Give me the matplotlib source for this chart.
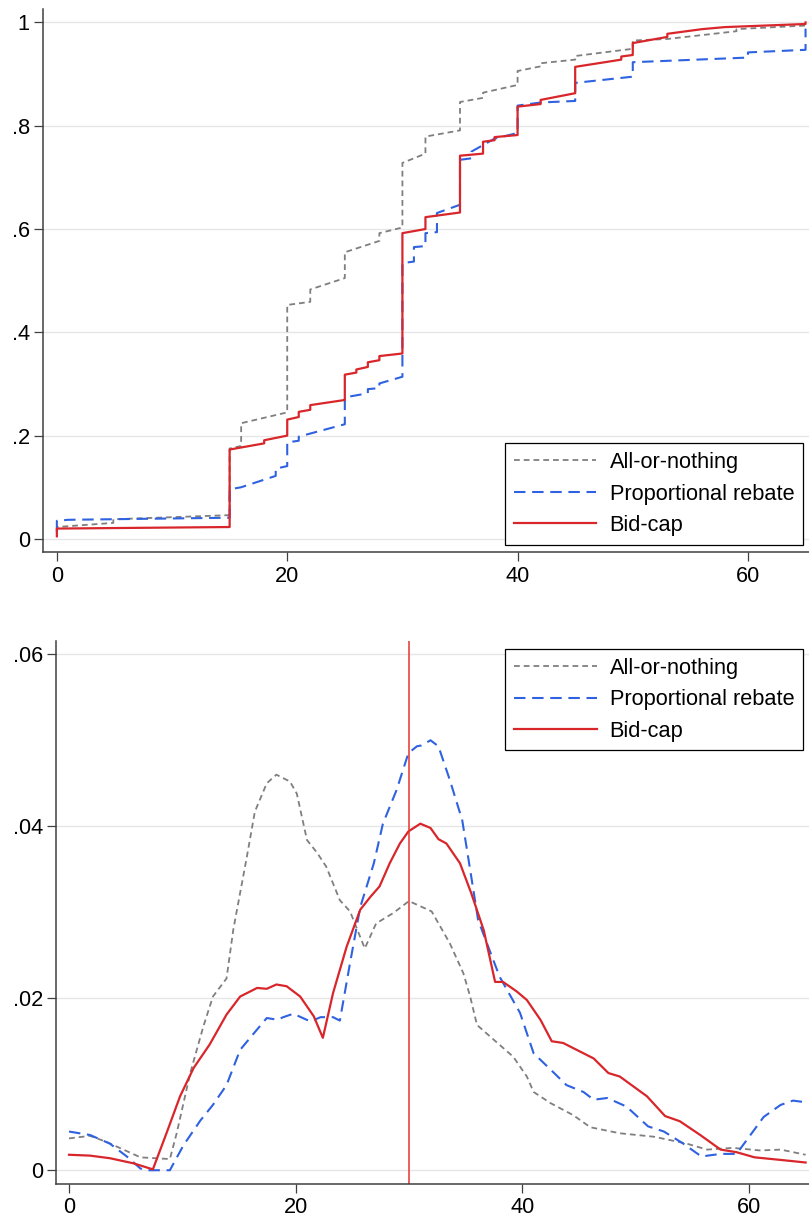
import matplotlib
matplotlib.use("Agg")
import matplotlib.pyplot as plt

plt.rcParams["font.family"] = ["Liberation Sans", "DejaVu Sans"]

labels = ["All-or-nothing", "Proportional rebate", "Bid-cap"]

# ECDF vertices (bid, cumulative share)
aon_x = [0, 0, 4.9, 4.9, 15, 15, 16, 16, 20, 20, 22, 22, 25, 25, 28, 28, 30, 30,
         32, 32, 35, 35, 37, 37, 40, 40, 42, 42, 45, 45, 50, 50, 53, 59, 59, 65]
aon_y = [0.015, 0.023, 0.031, 0.038, 0.046, 0.175, 0.18, 0.224, 0.245, 0.453, 0.459, 0.483,
         0.505, 0.555, 0.577, 0.592, 0.603, 0.728, 0.746, 0.779, 0.791, 0.846, 0.854, 0.864,
         0.879, 0.906, 0.915, 0.921, 0.928, 0.935, 0.949, 0.965, 0.968, 0.983, 0.987, 0.994]

prop_x = [0, 0, 1, 15, 15, 16, 19, 19, 20, 20, 21, 21, 25, 25, 27, 27, 28, 28, 30, 30,
          31, 31, 32, 32, 33, 33, 35, 35, 36, 36, 38, 40, 40, 42, 45, 45, 50, 50, 60, 60,
          65, 65]
prop_y = [0.014, 0.035, 0.037, 0.041, 0.096, 0.1, 0.122, 0.136, 0.141, 0.187, 0.19, 0.198,
          0.222, 0.274, 0.282, 0.29, 0.292, 0.301, 0.314, 0.534, 0.537, 0.565, 0.567, 0.592,
          0.594, 0.631, 0.647, 0.734, 0.737, 0.75, 0.775, 0.786, 0.839, 0.845, 0.848, 0.883,
          0.895, 0.923, 0.932, 0.942, 0.947, 0.988]

cap_x = [0, 0, 15, 15, 18, 18, 20, 20, 21, 21, 22, 22, 25, 25, 26, 26, 27, 27, 28, 28,
         30, 30, 32, 32, 35, 35, 37, 37, 38, 38, 40, 40, 42, 42, 45, 45, 49, 49, 50, 50,
         53, 53, 56, 58, 65, 65]
cap_y = [0.005, 0.02, 0.023, 0.173, 0.185, 0.191, 0.2, 0.231, 0.236, 0.246, 0.25, 0.259,
         0.269, 0.318, 0.322, 0.328, 0.333, 0.342, 0.346, 0.354, 0.359, 0.592, 0.6, 0.623,
         0.632, 0.742, 0.746, 0.769, 0.772, 0.778, 0.782, 0.837, 0.842, 0.85, 0.863, 0.914,
         0.928, 0.934, 0.937, 0.96, 0.972, 0.978, 0.987, 0.991, 0.997, 1.0]

# kernel density estimates
aon_kx = [0, 1.85, 3.3, 6.3, 8.9, 9.5, 10.7, 11.85, 12.7, 13.9, 14.5, 15.7, 16.4, 17.45,
          18.3, 19.5, 20.1, 21.0, 21.9, 22.7, 23.9, 24.8, 25.4, 26.1, 27.1, 28.6, 30.0,
          32.0, 33.6, 34.8, 35.4, 36.0, 37.2, 39.2, 40.4, 41.0, 42.5, 44.5, 46.0, 48.6,
          51.6, 54.5, 56.3, 58.6, 61.0, 62.8, 65.0]
aon_ky = [0.0037, 0.0040, 0.0033, 0.0015, 0.0013, 0.0043, 0.0113, 0.0167, 0.0202, 0.0223,
          0.0280, 0.0365, 0.0417, 0.0450, 0.0460, 0.0452, 0.0438, 0.0384, 0.0369, 0.0353,
          0.0314, 0.0301, 0.0281, 0.0258, 0.0287, 0.0299, 0.0313, 0.0301, 0.0264, 0.0229,
          0.0202, 0.0169, 0.0155, 0.0132, 0.0109, 0.0091, 0.0078, 0.0064, 0.0050, 0.0043,
          0.0039, 0.0031, 0.0024, 0.0026, 0.0023, 0.0024, 0.0018]

prop_kx = [0, 1.85, 3.6, 5.1, 6.3, 6.9, 8.9, 10.1, 11.6, 12.7, 13.9, 15.1, 16.3, 17.45,
           18.4, 18.9, 19.8, 21.3, 22.2, 23.3, 23.9, 24.8, 25.7, 26.9, 27.7, 28.9, 29.95,
           30.7, 31.1, 31.9, 32.6, 33.6, 34.7, 35.5, 36.1, 38.0, 39.8, 41.0, 42.5, 43.9,
           45.4, 46.3, 47.5, 49.2, 51.1, 52.5, 54.2, 55.8, 57.5, 58.9, 59.8, 61.3, 62.8,
           63.9, 65.0]
prop_ky = [0.0045, 0.0041, 0.0031, 0.0016, 0.0002, 0.0, 0.0, 0.0029, 0.0058, 0.0076,
           0.0099, 0.0140, 0.0159, 0.0177, 0.0175, 0.0178, 0.0182, 0.0173, 0.0178, 0.0178,
           0.0174, 0.0241, 0.0306, 0.0357, 0.0403, 0.0442, 0.0485, 0.0493, 0.0494, 0.0500,
           0.0493, 0.0454, 0.0407, 0.0341, 0.0291, 0.0225, 0.0183, 0.0136, 0.0117, 0.0099,
           0.0091, 0.0082, 0.0084, 0.0074, 0.0051, 0.0045, 0.0031, 0.0016, 0.0019, 0.0019,
           0.0035, 0.0062, 0.0076, 0.0081, 0.0079]

cap_kx = [0, 1.85, 3.6, 5.7, 7.4, 8.6, 9.8, 11.0, 12.4, 13.9, 15.1, 16.6, 17.45, 18.3,
          19.2, 20.4, 21.6, 22.4, 23.3, 24.5, 25.7, 26.6, 27.4, 28.3, 29.2, 29.95, 31.0,
          31.9, 32.6, 33.3, 34.5, 35.5, 36.6, 37.6, 38.3, 39.5, 40.4, 41.6, 42.6, 43.6,
          44.5, 46.3, 47.6, 48.6, 51.0, 52.6, 53.9, 55.7, 57.5, 58.9, 60.5, 62.8, 65.0]
cap_ky = [0.0018, 0.0017, 0.0014, 0.0008, 0.0001, 0.0043, 0.0086, 0.0119, 0.0146, 0.0181,
          0.0202, 0.0212, 0.0211, 0.0216, 0.0214, 0.0202, 0.0179, 0.0154, 0.0206, 0.0260,
          0.0303, 0.0318, 0.0330, 0.0357, 0.0380, 0.0394, 0.0403, 0.0398, 0.0385, 0.0380,
          0.0357, 0.0322, 0.0279, 0.0219, 0.0219, 0.0208, 0.0198, 0.0175, 0.0150, 0.0148,
          0.0142, 0.0130, 0.0113, 0.0109, 0.0086, 0.0063, 0.0057, 0.0041, 0.0024, 0.0021,
          0.0015, 0.0012, 0.0009]

cap_line = 30

GRAY = "#7f7f7f"
BLUE = "#2f62e0"
RED = "#d8262b"
styles = [
    dict(color=GRAY, lw=1.3, dashes=(3.2, 2.2)),
    dict(color=BLUE, lw=1.5, dashes=(5.5, 3.2)),
    dict(color=RED, lw=1.6, linestyle="-"),
]
FS = 15.7


def style_axes(ax, yticks, ylabels):
    for side in ("top", "right"):
        ax.spines[side].set_visible(False)
    for side in ("left", "bottom"):
        ax.spines[side].set_color("#404040")
        ax.spines[side].set_linewidth(1.1)
    ax.set_yticks(yticks)
    ax.set_yticklabels(ylabels)
    ax.set_xticks([0, 20, 40, 60])
    ax.tick_params(axis="both", direction="out", length=6.5, width=0.9,
                   color="#404040", labelsize=FS, pad=3)
    ax.grid(True, axis="y", color="#e6e6e6", lw=1.0)
    ax.set_axisbelow(True)


def add_legend(ax, handles, anchor):
    leg = ax.legend(handles, labels, loc="upper left", bbox_to_anchor=anchor,
                    borderaxespad=0, fontsize=FS, handlelength=3.8,
                    handletextpad=0.6, labelspacing=0.48, borderpad=0.4,
                    fancybox=False, framealpha=1, edgecolor="black")
    leg.get_frame().set_linewidth(0.9)


fig = plt.figure(figsize=(8.09, 12.19), dpi=100)

ax1 = fig.add_axes([0.0532, 0.5469, 0.9468, 0.4457])
h = []
for xs, ys, st in zip([aon_x, prop_x, cap_x], [aon_y, prop_y, cap_y], styles):
    ln, = ax1.plot(xs, ys, **st)
    h.append(ln)
ax1.set_xlim(-1.2, 65.3)
ax1.set_ylim(-0.026, 1.026)
style_axes(ax1, [0, 0.2, 0.4, 0.6, 0.8, 1], ["0", ".2", ".4", ".6", ".8", "1"])
add_legend(ax1, h, (0.603, 0.2006))

ax2 = fig.add_axes([0.0692, 0.0285, 0.9308, 0.4457])
h = []
for xs, ys, st in zip([aon_kx, prop_kx, cap_kx], [aon_ky, prop_ky, cap_ky], styles):
    ln, = ax2.plot(xs, ys, **st)
    h.append(ln)
ax2.axvline(cap_line, color="#e8332c", lw=1.1)
ax2.set_xlim(-1.15, 65.3)
ax2.set_ylim(-0.00163, 0.06155)
style_axes(ax2, [0, 0.02, 0.04, 0.06], ["0", ".02", ".04", ".06"])
add_legend(ax2, h, ((505 - 56) / (809 - 56), (1184.3 - 649) / (1184.3 - 641)))

fig.savefig("out.png", dpi=100)
